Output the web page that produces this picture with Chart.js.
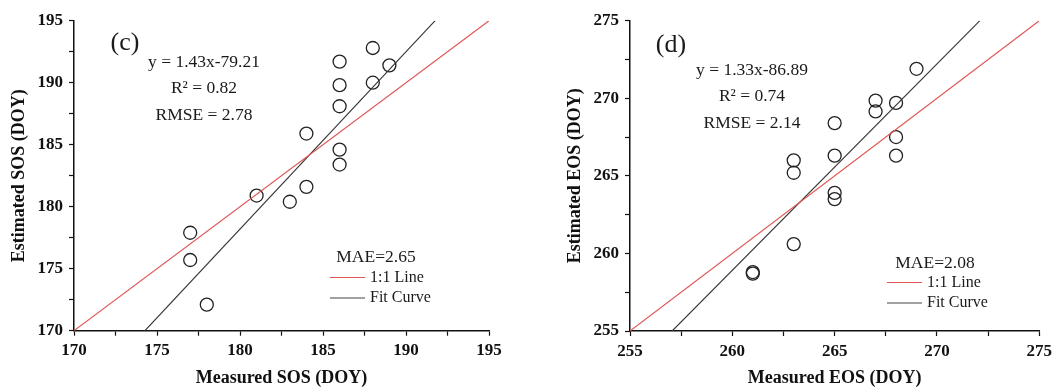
<!DOCTYPE html>
<html>
<head>
<meta charset="utf-8">
<script src="https://cdn.jsdelivr.net/npm/chart.js@4/dist/chart.umd.min.js"></script>
<style>
  body { margin: 0; background: #fff; }
  .panel { position: absolute; top: 0; width: 532px; height: 390px; }
</style>
</head>
<body>
<div class="panel" style="left:0"><canvas id="sosChart" width="532" height="390"></canvas></div>
<div class="panel" style="left:532px"><canvas id="eosChart" width="532" height="390"></canvas></div>
<script>
// values
const sosMeasured  = [177, 177, 178, 181, 183, 184, 184, 186, 186, 186, 186, 186, 188, 188, 189];
const sosEstimated = [177.9, 175.7, 172.1, 180.9, 180.4, 181.6, 185.9, 183.4, 184.6, 188.1, 189.8, 191.7, 192.8, 190.0, 191.4];
const sosTicks = [170, 175, 180, 185, 190, 195];
const sosFit = [1.43, -79.21];

const eosMeasured  = [261, 261, 263, 263, 263, 265, 265, 265, 265, 267, 267, 268, 268, 268, 269];
const eosEstimated = [258.7, 258.8, 260.6, 265.2, 266.0, 263.5, 263.9, 266.3, 268.4, 269.15, 269.85, 269.7, 267.5, 266.3, 271.9];
const eosTicks = [255, 260, 265, 270, 275];
const eosFit = [1.33, -86.89];

const serif = '"Liberation Serif", "Times New Roman", serif';

// text notes drawn on top of each panel
const notesPlugin = {
  id: 'notes',
  afterDraw(chart, args, o) {
    const ctx = chart.ctx;
    ctx.save();
    ctx.fillStyle = '#1a1a1a';
    ctx.textBaseline = 'middle';
    ctx.textAlign = 'center';
    ctx.font = '26px ' + serif;
    ctx.fillText(o.label, o.labelAt[0], o.labelAt[1]);
    ctx.font = '17.5px ' + serif;
    o.lines.forEach(function (t, i) {
      ctx.fillText(t, o.eqAt[0], o.eqAt[1] + i * 26.5);
    });
    ctx.font = '17.5px ' + serif;
    ctx.fillText(o.mae, o.maeAt[0], o.maeAt[1]);
    // legend
    const lx = o.legAt[0], ly = o.legAt[1];
    ctx.lineWidth = 1.2;
    ctx.strokeStyle = '#e05555';
    ctx.beginPath(); ctx.moveTo(lx, ly); ctx.lineTo(lx + 35, ly); ctx.stroke();
    ctx.strokeStyle = '#444';
    ctx.beginPath(); ctx.moveTo(lx, ly + 20.5); ctx.lineTo(lx + 35, ly + 20.5); ctx.stroke();
    ctx.textAlign = 'left';
    ctx.font = '16px ' + serif;
    ctx.fillText('1:1 Line', lx + 40, ly);
    ctx.fillText('Fit Curve', lx + 40, ly + 20.5);
    ctx.restore();
  }
};

function makePanel(id, measured, estimated, ticks, fit, name, notes, pad) {
  const lo = ticks[0], hi = ticks[ticks.length - 1];
  const points = measured.map(function (x, i) { return { x: x, y: estimated[i] }; });
  const fitLine = [
    { x: (lo - fit[1]) / fit[0], y: lo },
    { x: (hi - fit[1]) / fit[0], y: hi }
  ];
  const oneToOne = [{ x: lo, y: lo }, { x: hi, y: hi }];

  function axis(title, isX) {
    return {
      type: 'linear',
      min: lo,
      max: hi,
      afterFit: function (scale) {
        if (isX) scale.height = pad.xh; else scale.width = 74;
      },
      ticks: {
        stepSize: 2.5,
        autoSkip: false,
        maxRotation: 0,
        padding: isX ? 5 : 6,
        color: '#111',
        font: { family: serif, size: 17, weight: 'bold' },
        callback: function (v) { return v % 5 === 0 ? v : ''; }
      },
      grid: {
        display: true,
        drawOnChartArea: false,
        drawTicks: true,
        tickLength: 5,
        tickColor: '#111',
        tickWidth: 1.2
      },
      border: { display: true, color: '#111', width: 1.5 },
      title: {
        display: true,
        text: title,
        color: '#111',
        font: { family: serif, size: 18, weight: 'bold' },
        padding: isX ? { top: 0, bottom: 1 } : { top: 9, bottom: 0 }
      }
    };
  }

  return new Chart(document.getElementById(id), {
    type: 'scatter',
    data: {
      datasets: [
        {
          label: '1:1 Line',
          data: oneToOne,
          showLine: true,
          borderColor: '#e05555',
          borderWidth: 1.1,
          pointRadius: 0
        },
        {
          label: 'Fit Curve',
          data: fitLine,
          showLine: true,
          borderColor: '#333',
          borderWidth: 1.1,
          pointRadius: 0
        },
        {
          label: name,
          data: points,
          pointStyle: 'circle',
          pointRadius: 6.5,
          backgroundColor: 'rgba(0,0,0,0)',
          borderColor: '#222',
          borderWidth: 1.3
        }
      ]
    },
    options: {
      responsive: false,
      animation: false,
      layout: { padding: { left: pad.left, top: 20.7, right: pad.right, bottom: 0 } },
      plugins: {
        legend: { display: false },
        tooltip: { enabled: false },
        notes: notes
      },
      scales: {
        x: axis('Measured ' + name + ' (DOY)', true),
        y: axis('Estimated ' + name + ' (DOY)', false)
      }
    },
    plugins: [notesPlugin]
  });
}

makePanel('sosChart', sosMeasured, sosEstimated, sosTicks, sosFit, 'SOS', {
  label: '(c)', labelAt: [125, 43],
  lines: ['y = 1.43x-79.21', 'R\u00b2 = 0.82', 'RMSE = 2.78'], eqAt: [204, 62],
  mae: 'MAE=2.65', maeAt: [376, 257],
  legAt: [330, 277.5]
}, { left: 0, right: 43, xh: 59.3 });

makePanel('eosChart', eosMeasured, eosEstimated, eosTicks, eosFit, 'EOS', {
  label: '(d)', labelAt: [139, 45],
  lines: ['y = 1.33x-86.89', 'R\u00b2 = 0.74', 'RMSE = 2.14'], eqAt: [220, 70],
  mae: 'MAE=2.08', maeAt: [403, 263],
  legAt: [355, 282.5]
}, { left: 24, right: 24.7, xh: 59 });
</script>
</body>
</html>
